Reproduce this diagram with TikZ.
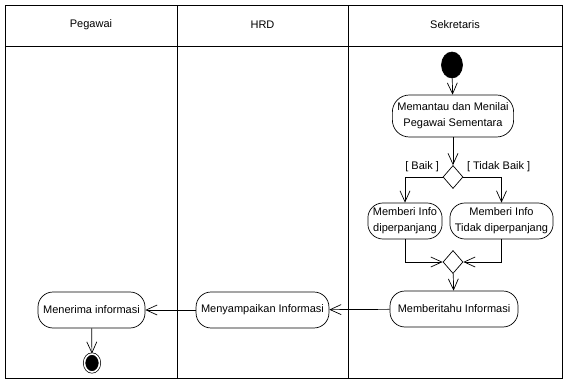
\documentclass[tikz,border=0pt]{standalone}
\usepackage{fontspec}
\setmainfont{Liberation Sans}
\usepackage{tikz}
\usetikzlibrary{arrows.meta, positioning, calc, shapes.geometric}

\begin{document}
\begin{tikzpicture}[x=1pt, y=-1pt, font=\fontsize{11}{16}\selectfont, activity/.style={rectangle, rounded corners=15pt, draw, align=center, inner xsep=5pt, minimum height=36pt}, initial/.style={ellipse, draw, fill=black, minimum width=21pt, minimum height=26pt, inner sep=0pt}, final/.style={ellipse, draw, double, double distance=1.6pt, fill=black, minimum width=15pt, minimum height=18pt, inner sep=0pt}, decision/.style={diamond, draw, minimum width=20pt, minimum height=23pt, inner sep=0pt}, lane/.style={draw, line width=0.9pt}, >={Straight Barb[length=11pt, width=10pt]}, every edge/.style={draw, ->}, line width=0.7pt]
        \useasboundingbox (0,0) rectangle (563,380);
        % swimlanes
        \draw[lane] (5,5) rectangle (562,378);
        \draw[lane] (5,46) -- (562,46);
        \draw[lane] (177,5) -- (177,378);
        \draw[lane] (348,5) -- (348,378);
        \node (pegawai) at (91,25) {Pegawai};
        \node (hrd) at (262.5,25) {HRD};
        \node (sekretaris) at (455,25) {Sekretaris};
        % activities
        \node[initial] (start) at (452,65) {};
        \node[activity, minimum height=42pt, rounded corners=17pt] (act1) at (453,116) {Memantau dan Menilai\\Pegawai Sementara};
        \node[decision] (dec1) at (453,177) {};
        \node[activity] (info1) at (405,221) {Memberi Info\\diperpanjang};
        \node[activity] (info2) at (501.5,221) {Memberi Info\\Tidak diperpanjang};
        \node[decision] (mrg1) at (453,262) {};
        \node[activity, minimum width=128pt] (act2) at (454,309) {Memberitahu Informasi};
        \node[activity, minimum width=131pt] (act3) at (262.5,310) {Menyampaikan Informasi};
        \node[activity, minimum width=107pt] (act4) at (91.5,310) {Menerima informasi};
        \node[final] (fin) at (92,363) {};
        \path (start) edge (act1);
        \path (act1) edge (dec1);
        \draw[->] (dec1.west) -| node[above left, pos=0, yshift=2pt] {[ Baik ]} (info1.north);
        \draw[->] (dec1.east) -| node[above right, pos=0, yshift=2pt] {[ Tidak Baik ]} (info2.north);
        \draw[->] (info1.south) |- (mrg1.west);
        \draw[->] (info2.south) |- (mrg1.east);
        \path (mrg1) edge (act2);
        \path (act2) edge (act3);
        \path (act3) edge (act4);
        \path (act4) edge (fin);
    \end{tikzpicture}
\end{document}
